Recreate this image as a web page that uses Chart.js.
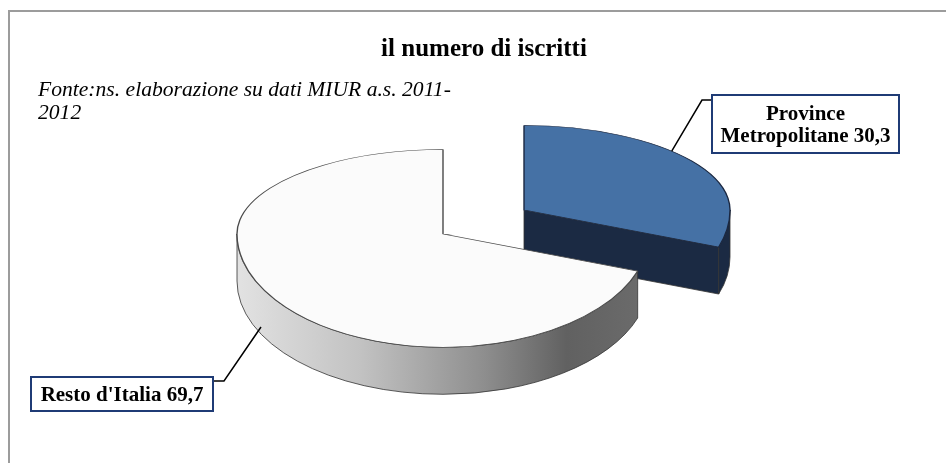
<!DOCTYPE html>
<html>
<head>
<meta charset="utf-8">
<script src="https://cdn.jsdelivr.net/npm/chart.js@4.4.0/dist/chart.umd.min.js"></script>
<style>
  html, body { margin: 0; padding: 0; background: #fff; }
  #box { width: 946px; height: 463px; position: relative; }
</style>
</head>
<body>
<div id="box"><canvas id="grafico" width="946" height="463"></canvas></div>
<script>
// ---- dati ----
const categorie = ['Province\nMetropolitane', "Resto d'Italia"];
const valori = [30.3, 69.7];
const titolo = 'il numero di iscritti';
const fonte = ['Fonte:ns. elaborazione su dati MIUR a.s. 2011-', '2012'];

// ---- stile ----
const coloriTop = ['#4571a5', '#fbfbfb'];
const coloriBordo = ['#1a2740', '#4a4a4a'];
const coloreTaglio = '#1b2a43';
const esplosione = [100, 0];       // spostamento della fetta (px)
const kFar = 0.41, kNear = 0.55;   // schiacciamento prospettico
const spessore = 47;               // altezza del cilindro
const richiamo = [0.42, 0.53];     // punto di attacco della linea, frazione della fetta
const scatole = [
  { x: 712, y: 95, w: 187, h: 58, lx: 702, ly: 100, lato: 'sx', superficie: 'top' },
  { x: 31, y: 377, w: 182, h: 34, lx: 224, ly: 381, lato: 'dx', superficie: 'parete' }
];

const fmt = v => v.toFixed(1).replace('.', ',');

function geometria(chart, i) {
  const arc = chart.getDatasetMeta(0).data[i];
  const p = arc.getProps(['x', 'y', 'startAngle', 'endAngle', 'outerRadius'], true);
  const mid = (p.startAngle + p.endAngle) / 2;
  const d = esplosione[i];
  const cx = Math.round(p.x + Math.cos(mid) * d);
  const cy = Math.round(p.y + Math.sin(mid) * d * (Math.sin(mid) < 0 ? kFar : kNear));
  return { arc, ...p, cx, cy, r: p.outerRadius };
}

function punto(g, a, dy) {
  const s = Math.sin(a);
  return [g.cx + g.r * Math.cos(a), g.cy + g.r * s * (s < 0 ? kFar : kNear) + (dy || 0)];
}

function facciaRadiale(ctx, g, a) {
  const e = punto(g, a);
  ctx.beginPath();
  ctx.moveTo(g.cx, g.cy);
  ctx.lineTo(e[0], e[1]);
  ctx.lineTo(e[0], e[1] + spessore);
  ctx.lineTo(g.cx, g.cy + spessore);
  ctx.closePath();
  ctx.fillStyle = coloreTaglio;
  ctx.fill();
  ctx.stroke();
}

const torta3d = {
  id: 'torta3d',
  beforeDatasetsDraw(chart) {
    const ctx = chart.ctx;
    const W = chart.width, H = chart.height;
    const meta = chart.getDatasetMeta(0);
    meta.data.forEach((el, i) => {
      const g = geometria(chart, i);
      ctx.save();
      ctx.lineWidth = 0.8;
      ctx.strokeStyle = '#333';

      // facce radiali visibili
      if (Math.cos(g.endAngle) > 0.01) facciaRadiale(ctx, g, g.endAngle);
      if (Math.cos(g.startAngle) < -0.01) facciaRadiale(ctx, g, g.startAngle);

      // parete esterna (metà frontale)
      const a0 = Math.max(g.startAngle, 0), a1 = Math.min(g.endAngle, Math.PI);
      if (a1 > a0) {
        const ry = g.r * kNear;
        ctx.beginPath();
        ctx.ellipse(g.cx, g.cy, g.r, ry, 0, a0, a1, false);
        ctx.ellipse(g.cx, g.cy + spessore, g.r, ry, 0, a1, a0, true);
        ctx.closePath();
        if (i === 1) {
          const gr = ctx.createLinearGradient(g.cx - g.r, 0, g.cx + g.r, 0);
          gr.addColorStop(0, '#e2e2e2');
          gr.addColorStop(0.3, '#c2c2c2');
          gr.addColorStop(0.6, '#8e8e8e');
          gr.addColorStop(0.8, '#616161');
          gr.addColorStop(1, '#6c6c6c');
          ctx.fillStyle = gr;
        } else {
          ctx.fillStyle = coloreTaglio;
        }
        ctx.fill();
        ctx.stroke();
      }
      ctx.restore();

      // faccia superiore: disegnata da Chart.js, schiacciata in due metà
      [[kFar, 0, g.cy + 1], [kNear, g.cy, H]].forEach(([k, t, b]) => {
        ctx.save();
        ctx.beginPath();
        ctx.rect(0, t, W, b - t);
        ctx.clip();
        ctx.translate(g.cx, g.cy);
        ctx.scale(1, k);
        ctx.translate(-g.x, -g.y);
        g.arc.draw(ctx, chart.chartArea);
        ctx.restore();
      });
    });
    return false;
  },
  afterDraw(chart) {
    const ctx = chart.ctx;
    ctx.save();
    // cornice
    ctx.strokeStyle = '#9c9c9c';
    ctx.lineWidth = 2;
    ctx.beginPath();
    ctx.moveTo(9, 463);
    ctx.lineTo(9, 11);
    ctx.lineTo(946, 11);
    ctx.stroke();

    // titolo e fonte
    ctx.fillStyle = '#000';
    ctx.textAlign = 'center';
    ctx.textBaseline = 'alphabetic';
    ctx.font = 'bold 25px "Liberation Serif"';
    ctx.fillText(titolo, 484, 56);
    ctx.textAlign = 'left';
    ctx.font = 'italic 21.6px "Liberation Serif"';
    fonte.forEach((t, j) => ctx.fillText(t, 38, 96 + j * 23));

    // etichette con linee di richiamo
    categorie.forEach((c, i) => {
      const g = geometria(chart, i);
      const s = scatole[i];
      const a = g.startAngle + (g.endAngle - g.startAngle) * richiamo[i];
      const p = s.superficie === 'top' ? punto(g, a) : punto(g, a, spessore * 0.85);
      ctx.strokeStyle = '#000';
      ctx.lineWidth = 1.5;
      ctx.beginPath();
      ctx.moveTo(s.lato === 'sx' ? s.x : s.x + s.w, s.ly);
      ctx.lineTo(s.lx, s.ly);
      ctx.lineTo(p[0], p[1]);
      ctx.stroke();

      ctx.fillStyle = '#fff';
      ctx.fillRect(s.x, s.y, s.w, s.h);
      ctx.strokeStyle = '#1f3b75';
      ctx.lineWidth = 2;
      ctx.strokeRect(s.x, s.y, s.w, s.h);

      const righe = (c + ' ' + fmt(valori[i])).split('\n');
      ctx.fillStyle = '#000';
      ctx.textAlign = 'center';
      ctx.font = 'bold 21px "Liberation Serif"';
      const base = s.y + s.h / 2 + 7 - (righe.length - 1) * 11;
      righe.forEach((t, j) => ctx.fillText(t, s.x + s.w / 2, base + j * 22));
    });
    ctx.restore();
  }
};

new Chart(document.getElementById('grafico'), {
  type: 'pie',
  data: {
    labels: categorie,
    datasets: [{
      data: valori,
      backgroundColor: coloriTop,
      borderColor: coloriBordo,
      borderWidth: 1.4,
      radius: 206
    }]
  },
  options: {
    responsive: false,
    animation: false,
    events: [],
    layout: { padding: { left: 0, right: 60, top: 5, bottom: 0 } },
    plugins: {
      legend: { display: false },
      title: { display: false },
      tooltip: { enabled: false }
    }
  },
  plugins: [torta3d]
});
</script>
</body>
</html>
